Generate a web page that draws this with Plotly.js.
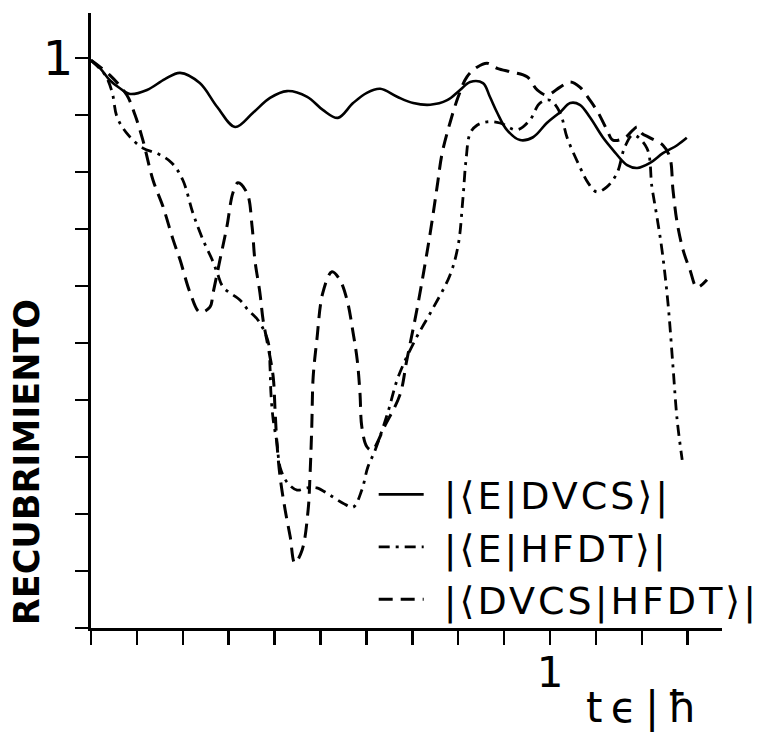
<!DOCTYPE html>
<html>
<head>
<meta charset="utf-8">
<script src="https://cdn.plot.ly/plotly-3.0.1.min.js"></script>
<style>
html,body{margin:0;padding:0;background:#fff;}
#chart{width:760px;height:735px;}
.legendtext{letter-spacing:3px;}
</style>
</head>
<body>
<div id="chart"></div>
<script>
// |<E|DVCS>| (solid)
const xEDVCS = [0.000,0.020,0.041,0.063,0.085,0.122,0.161,0.194,0.237,0.275,0.314,0.353,0.390,0.427,0.471,0.505,0.538,0.571,0.601,0.630,0.667,0.702,0.739,0.776,0.804,0.826,0.854,0.869,0.885,0.906,0.935,0.963,0.993,1.022,1.044,1.065,1.087,1.115,1.137,1.168,1.190,1.218,1.246,1.277,1.298];
const yEDVCS = [0.996,0.982,0.961,0.947,0.937,0.944,0.963,0.974,0.956,0.914,0.879,0.904,0.930,0.942,0.932,0.909,0.895,0.921,0.939,0.946,0.932,0.921,0.918,0.926,0.944,0.958,0.956,0.932,0.904,0.874,0.856,0.861,0.886,0.905,0.921,0.918,0.896,0.861,0.839,0.812,0.807,0.816,0.833,0.847,0.860];

// |<E|HFDT>| (dash-dot)
const xEHFDT = [0,0.031,0.046,0.057,0.081,0.113,0.146,0.176,0.200,0.222,0.244,0.264,0.275,0.288,0.325,0.342,0.364,0.386,0.390,0.392,0.397,0.405,0.412,0.427,0.449,0.471,0.492,0.521,0.549,0.571,0.590,0.603,0.619,0.647,0.669,0.706,0.743,0.782,0.800,0.810,0.817,0.826,0.841,0.863,0.891,0.928,0.956,0.978,1.000,1.022,1.037,1.065,1.083,1.102,1.124,1.146,1.163,1.181,1.211,1.222,1.233,1.244,1.257,1.268,1.277,1.288];
const yEHFDT = [0.996,0.970,0.940,0.896,0.865,0.842,0.832,0.816,0.786,0.728,0.681,0.646,0.623,0.598,0.575,0.558,0.540,0.502,0.458,0.412,0.365,0.325,0.282,0.256,0.242,0.246,0.246,0.233,0.219,0.212,0.242,0.282,0.312,0.379,0.440,0.505,0.558,0.619,0.672,0.751,0.821,0.868,0.882,0.888,0.886,0.874,0.891,0.921,0.926,0.904,0.861,0.809,0.781,0.765,0.774,0.798,0.844,0.865,0.842,0.774,0.721,0.663,0.570,0.458,0.365,0.295];

// |<DVCS|HFDT>| (dashed)
const xDVHF = [0,0.041,0.078,0.096,0.113,0.135,0.157,0.179,0.194,0.216,0.237,0.259,0.266,0.281,0.296,0.309,0.320,0.340,0.351,0.357,0.368,0.375,0.386,0.397,0.401,0.405,0.412,0.423,0.434,0.444,0.460,0.473,0.477,0.481,0.484,0.492,0.505,0.525,0.542,0.558,0.571,0.580,0.586,0.590,0.601,0.612,0.641,0.673,0.688,0.712,0.739,0.754,0.765,0.782,0.800,0.819,0.841,0.863,0.885,0.919,0.950,0.972,0.993,1.022,1.044,1.065,1.087,1.105,1.124,1.137,1.163,1.181,1.190,1.200,1.218,1.246,1.261,1.268,1.277,1.290,1.305,1.320,1.342];
const yDVHF = [0.996,0.970,0.935,0.900,0.856,0.786,0.739,0.681,0.646,0.588,0.554,0.563,0.588,0.646,0.704,0.763,0.781,0.763,0.704,0.646,0.588,0.540,0.493,0.440,0.382,0.325,0.265,0.207,0.160,0.114,0.137,0.207,0.265,0.353,0.440,0.505,0.588,0.625,0.611,0.575,0.518,0.470,0.412,0.353,0.318,0.312,0.356,0.409,0.470,0.567,0.693,0.774,0.833,0.886,0.932,0.967,0.984,0.991,0.982,0.975,0.967,0.944,0.935,0.949,0.958,0.949,0.926,0.904,0.874,0.856,0.860,0.874,0.879,0.868,0.860,0.847,0.826,0.768,0.711,0.663,0.628,0.598,0.611];

const names = ['\u00A0|⟨E|DVCS⟩|','\u00A0|⟨E|HFDT⟩|','\u00A0|⟨DVCS|HFDT⟩|'];
const xTickVals = [0,0.1,0.2,0.3,0.4,0.5,0.6,0.7,0.8,0.9,1.0,1.1,1.2,1.3];
const xTickText = ['','','','','','','','','','','1','','',''];
const yTickVals = [0,0.1,0.2,0.3,0.4,0.5,0.6,0.7,0.8,0.9,1.0];
const yTickText = ['','','','','','','','','','','1'];
const yTitle = 'RECUBRIMIENTO';
const xTitle = 't\u2009ϵ\u2009|\u2009ħ';

const traces = [
  {x:xEDVCS, y:yEDVCS, name:names[0], mode:'lines', line:{color:'#000', width:2.6, shape:'spline', smoothing:1}},
  {x:xEHFDT, y:yEHFDT, name:names[1], mode:'lines', line:{color:'#000', width:2.8, dash:'11px,6px,3px,6px', shape:'spline', smoothing:1}},
  {x:xDVHF, y:yDVHF, name:names[2], mode:'lines', line:{color:'#000', width:3, dash:'14px,8px', shape:'spline', smoothing:1}}
];

const layout = {
  width:760, height:735,
  margin:{l:91, r:38, t:13, b:107, autoexpand:false},
  paper_bgcolor:'#fff', plot_bgcolor:'#fff',
  font:{family:'DejaVu Sans', color:'#000'},
  showlegend:true,
  legend:{x:0.448, y:0.268, xanchor:'left', yanchor:'top', bgcolor:'rgba(0,0,0,0)',
          font:{size:38, family:'DejaVu Sans', color:'#000'}, itemwidth:45, tracegroupgap:0},
  xaxis:{range:[0,1.3747], showgrid:false, zeroline:false, showline:true, linecolor:'#000', linewidth:3,
         ticks:'outside', ticklen:14, tickwidth:2.5, tickcolor:'#000',
         tickmode:'array', tickvals:xTickVals, ticktext:xTickText,
         tickfont:{size:42, family:'DejaVu Sans'}, ticklabelstandoff:-8, fixedrange:true},
  yaxis:{range:[0,1.079], showgrid:false, zeroline:false, showline:true, linecolor:'#000', linewidth:3,
         ticks:'outside', ticklen:13, tickwidth:2.5, tickcolor:'#000',
         tickmode:'array', tickvals:yTickVals, ticktext:yTickText,
         tickfont:{size:48, family:'DejaVu Sans'}, ticklabelstandoff:-8, fixedrange:true},
  annotations:[
    {text:yTitle, xref:'paper', yref:'paper', x:-0.101, y:0.27, textangle:-90, showarrow:false,
     font:{size:35, family:'DejaVu Sans', weight:'bold', color:'#000'}, xanchor:'center', yanchor:'middle'},
    {text:xTitle, xref:'paper', yref:'paper', x:0.873, y:-0.13, showarrow:false,
     font:{size:42, family:'DejaVu Sans', color:'#000'}, xanchor:'center', yanchor:'middle'}
  ]
};

Plotly.newPlot('chart', traces, layout, {staticPlot:true, displayModeBar:false});
</script>
</body>
</html>
